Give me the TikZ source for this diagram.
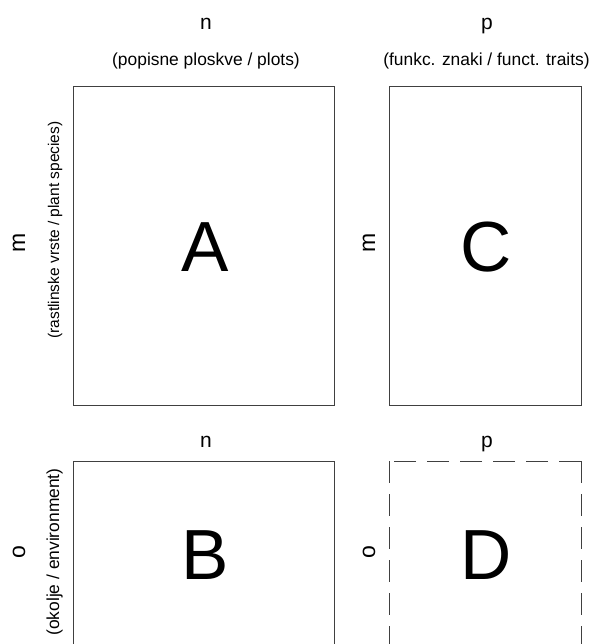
\documentclass[tikz,border=0pt]{standalone}
\usepackage{fontspec}
\setmainfont{Liberation Sans}
\begin{document}
\begin{tikzpicture}[x=1pt,y=-1pt,
  matbox/.style={draw=black!75,line width=1pt},
  dimlabel/.style={font=\fontsize{21}{25}\selectfont,inner sep=0pt,anchor=base},
  rowlabel/.style={dimlabel,rotate=90,font=\fontsize{23}{27}\selectfont},
  desclabel/.style={font=\fontsize{17.4}{21}\selectfont,inner sep=0pt,anchor=base},
  bigletter/.style={font=\fontsize{71}{75}\selectfont,inner sep=0pt},
  dashedbox/.style={draw=black!75,line width=1pt,dash pattern=on 22pt off 11pt}]
\useasboundingbox (0,0) rectangle (590,644);
\clip (0,0) rectangle (590,644);

% matrix outlines
\draw[matbox] (73,87) rectangle (334,405);
\draw[matbox] (389,87) rectangle (581,405);
\draw[matbox] (73,461) rectangle (334,652);
\coordinate (dtl) at (389,461);
\coordinate (dtr) at (581,461);
\coordinate (dbl) at (389,652);
\coordinate (dbr) at (581,652);
\draw[dashedbox] (dtr) -- (dtl);
\draw[dashedbox] (dtl) -- (dbl);
\draw[dashedbox] (dtr) -- (dbr);

% matrix names
\node[bigletter] (A) at (205,247) {A};
\node[bigletter] (C) at (486,247) {C};
\node[bigletter] (B) at (205,555) {B};
\node[bigletter] (D) at (486,555) {D};

% column dimensions
\node[dimlabel] (n1) at (206,29.5) {n};
\node[desclabel] (plots) at (206,66) {(popisne ploskve / plots)};
\node[dimlabel] (p1) at (487,29.5) {p};
\node[desclabel] (traits) at (486.5,66) {(funkc. znaki / funct. traits)};
\node[dimlabel] (n2) at (206,447) {n};
\node[dimlabel] (p2) at (487,447) {p};

% row dimensions
\node[rowlabel] (m1) at (25,243) {m};
\node[desclabel,rotate=90,font=\fontsize{15.5}{19}\selectfont] (species) at (59,230) {(rastlinske vrste / plant species)};
\node[rowlabel] (m2) at (375,243) {m};
\node[rowlabel] (o1) at (25,552) {o};
\node[desclabel,rotate=90] (env) at (59,552) {(okolje / environment)};
\node[rowlabel] (o2) at (375,552) {o};
\end{tikzpicture}
\end{document}
